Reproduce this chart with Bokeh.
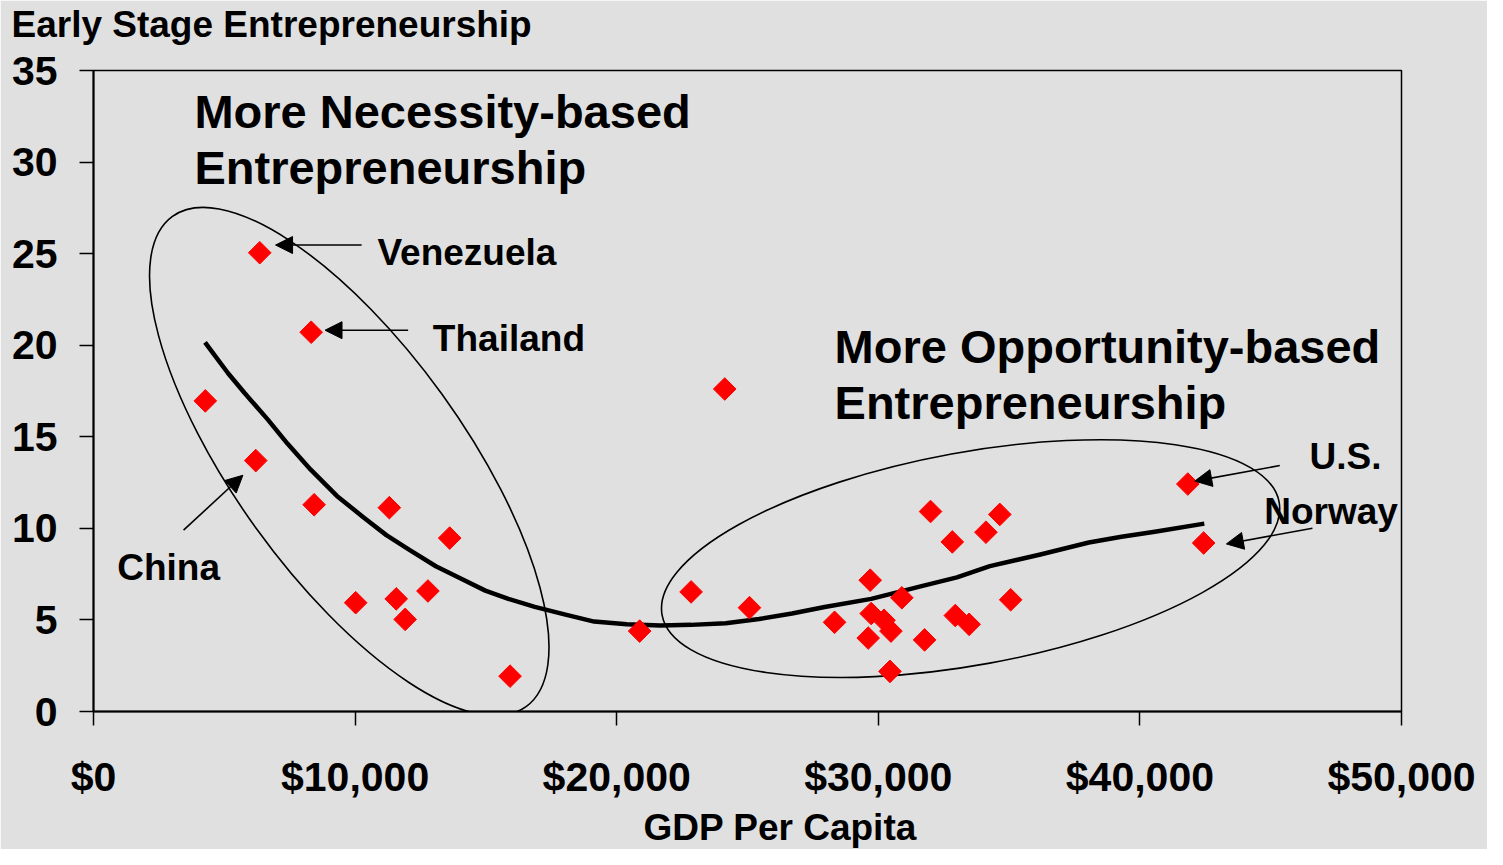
from bokeh.plotting import figure
from bokeh.models import FixedTicker, NumeralTickFormatter, Label, Arrow, NormalHead, Title
from bokeh.embed import file_html
from bokeh.resources import INLINE

# ---- data ----
gdp = [4274, 6354, 6203, 8321, 8434, 10023, 11309, 11573, 11914, 12784, 13616, 15923,
       20877, 24130, 22844, 25076, 28328, 29690, 29728, 30219, 30484, 29614, 30900,
       30446, 31770, 31997, 32829, 32943, 33472, 34115, 34644, 35060, 41831, 42436]
tea = [16.96, 25.05, 13.70, 20.71, 11.29, 5.94, 11.13, 6.15, 5.03, 6.58, 9.47, 1.93,
       4.39, 17.61, 6.53, 5.67, 4.87, 7.17, 5.35, 4.98, 4.39, 4.01, 6.21,
       2.19, 3.91, 10.92, 9.26, 5.24, 4.76, 9.79, 10.76, 6.10, 12.42, 9.20]

# trend line
trend_gdp = [4263, 5144, 5775, 6657, 7413, 8294, 9304, 10314, 11195, 12076, 13086,
             14096, 14977, 15859, 16868, 18003, 19138, 20386, 21660, 22844, 24168,
             25443, 26702, 27950, 29728, 31732, 33006, 34266, 36157, 38048, 39297,
             40571, 42462]
trend_tea = [20.16, 18.47, 17.39, 15.95, 14.63, 13.22, 11.77, 10.61, 9.63, 8.83, 7.93,
             7.22, 6.60, 6.15, 5.71, 5.30, 4.91, 4.76, 4.69, 4.73, 4.82,
             5.05, 5.35, 5.71, 6.15, 6.87, 7.32, 7.94, 8.56, 9.23, 9.54,
             9.81, 10.26]

x_ticks = [0, 10000, 20000, 30000, 40000, 50000]
y_ticks = [0, 5, 10, 15, 20, 25, 30, 35]

title_text = "Early Stage Entrepreneurship"
x_title = "GDP Per Capita"

# ellipses grouping the two clusters (centre, size, angle)
ell_x = [9777, 33529]
ell_y = [13.65, 8.35]
ell_w = [23109, 23979]
ell_h = [12.52, 11.61]
ell_a = [-0.946, 0.181]

# big annotations
group_text = ["More Necessity-based", "Entrepreneurship",
              "More Opportunity-based", "Entrepreneurship"]
group_x = [3858, 3858, 28328, 28328]
group_y = [32.78, 29.70, 19.93, 16.88]

# country labels + arrows
country = ["Venezuela", "Thailand", "China", "U.S.", "Norway"]
country_x = [10855, 12973, 908, 46483, 44750]
country_y = [25.07, 20.36, 7.84, 13.91, 10.94]
arr_x0 = [10250, 12027, 3442, 45348, 46596]
arr_y0 = [25.47, 20.82, 9.90, 13.43, 10.01]
arr_x1 = [6959, 8850, 5711, 42095, 43306]
arr_y1 = [25.47, 20.82, 12.90, 12.58, 9.15]

FONT = "Liberation Sans"
BG = "#e0e0e0"

p = figure(width=1487, height=849, x_range=(0, 50000), y_range=(0, 35),
           output_backend="svg", toolbar_location=None, title=None,
           min_border_left=93, min_border_right=86, min_border_top=70, min_border_bottom=137)

p.background_fill_color = BG
p.border_fill_color = BG
p.outline_line_color = "black"
p.outline_line_width = 1.5
p.grid.visible = False

# spacer next to the frame, then the (horizontal) y-axis title above it
p.add_layout(Title(text=" ", text_font=FONT, text_font_size="10px", standoff=13), "above")
p.add_layout(Title(text=title_text, text_font=FONT, text_font_size="37px",
                   text_font_style="bold", text_color="black",
                   align="left", offset=-82, standoff=0), "above")

for ax in (p.xaxis[0], p.yaxis[0]):
    ax.axis_line_color = "black"
    ax.axis_line_width = 2
    ax.major_tick_line_color = "black"
    ax.major_tick_line_width = 1.5
    ax.major_tick_out = 14
    ax.major_tick_in = 0
    ax.minor_tick_line_color = None
    ax.major_label_text_font = FONT
    ax.major_label_text_font_style = "bold"
    ax.major_label_text_color = "black"

p.xaxis.ticker = FixedTicker(ticks=x_ticks)
p.xaxis.formatter = NumeralTickFormatter(format="$0,0")
p.xaxis.major_label_text_font_size = "41px"
p.xaxis.major_label_standoff = 28

p.yaxis.ticker = FixedTicker(ticks=y_ticks)
p.yaxis.major_label_text_font_size = "41px"
p.yaxis.major_label_standoff = 22

# x-axis title, below the tick labels
p.add_layout(Title(text=x_title, text_font=FONT, text_font_size="37px",
                   text_font_style="bold", text_color="black",
                   align="left", offset=550, standoff=4), "below")

# ellipses
p.ellipse(x=ell_x, y=ell_y, width=ell_w, height=ell_h, angle=ell_a,
          fill_alpha=0, line_color="black", line_width=1.6)

# trend line
p.line(trend_gdp, trend_tea, line_color="black", line_width=4.5, line_join="round")

# points (diamonds)
p.scatter(gdp, tea, marker="square", size=16, angle=0.785398,
          fill_color="#ff0000", line_color="#ff0000")

# arrows
for x0, y0, x1, y1 in zip(arr_x0, arr_y0, arr_x1, arr_y1):
    p.add_layout(Arrow(end=NormalHead(size=17, fill_color="black", line_color="black"),
                       x_start=x0, y_start=y0, x_end=x1, y_end=y1,
                       line_color="black", line_width=1.6))

def lab(x, y, t, size, align="left"):
    return Label(x=x, y=y, text=t, text_font=FONT, text_font_size=size,
                 text_font_style="bold", text_color="black",
                 text_baseline="middle", text_align=align)

for t, x, y in zip(group_text, group_x, group_y):
    p.add_layout(lab(x, y, t, "47px"))

for t, x, y in zip(country, country_x, country_y):
    p.add_layout(lab(x, y, t, "37px"))

open("out.html", "w").write(file_html(p, INLINE))
